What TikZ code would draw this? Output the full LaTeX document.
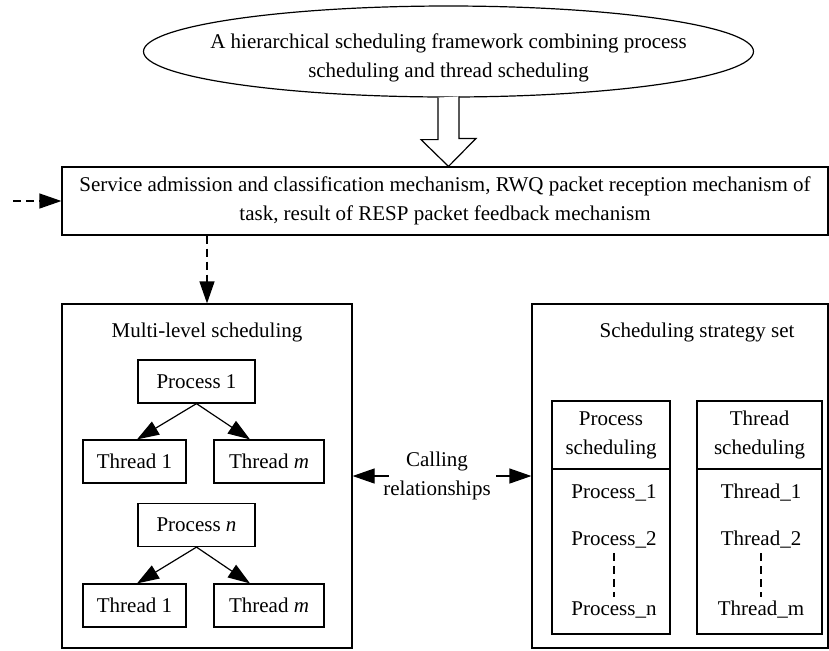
\documentclass[tikz,border=0pt]{standalone}
\usepackage{fontspec}
\setmainfont{Liberation Serif}
\usetikzlibrary{positioning,arrows.meta,shapes.geometric,calc}

\begin{document}
\begin{tikzpicture}[x=0.5pt, y=-0.5pt,
  font=\fontsize{10.5}{14.5}\selectfont,
  line width=0.6pt,
  box/.style={draw, rectangle, inner sep=0pt, align=center},
  proc/.style={box, minimum width=58.5pt, minimum height=21.5pt},
  thr1/.style={box, minimum width=51.5pt, minimum height=21.5pt},
  thrm/.style={box, minimum width=55pt, minimum height=21.5pt},
  item/.style={inner sep=0pt},
  tri/.style={-{Triangle[length=11pt,width=7.5pt]}},
  dsh/.style={dash pattern=on 4pt off 2.5pt}]
\useasboundingbox (0,0) rectangle (829,650);
% Framework ellipse and admission box
\node[draw, ellipse, minimum width=305pt, minimum height=45.5pt, inner sep=0pt] (frame) at (448.5,51.5) {};
\node[align=center, inner sep=0pt] (frametxt) at (448.5,58) {A hierarchical scheduling framework combining process\\ scheduling and thread scheduling};
\node[box, minimum width=383pt, minimum height=34pt] (adm) at (445,201) {Service admission and classification mechanism, RWQ packet reception mechanism of\\ task, result of RESP packet feedback mechanism};
\coordinate (src) at (13,201);
\draw[tri, dsh] (src) -- (adm.west);
\draw[fill=white] ($(frame.south)+(-10.5,0)$) -- ++(0,42) -- ++(-17,0) -- (frame.south |- adm.north) -- ++(27.5,-28) -- ++(-17,0) -- ++(0,-42);
% Multi-level scheduling (left)
\node[box, minimum width=145pt, minimum height=172pt] (mls) at (207,476) {};
\node (mlst) at (207,332) {Multi-level scheduling};
\draw[tri, dsh] (adm.south -| mls) -- (mls.north);
\node[proc] (p1) at (196.5,381.5) {Process 1};
\node[thr1] (p1t1) at (134.5,461.5) {Thread 1};
\node[thrm] (p1tm) at (269,461.5) {Thread \textit{m}};
\draw[tri] (p1.south) -- ($(p1t1.north)+(2.5,0)$);
\draw[tri] (p1.south) -- ($(p1tm.north)+(-19,0)$);
\node[proc] (pn) at (196.5,525) {Process \textit{n}};
\node[thr1] (pnt1) at (134.5,605.5) {Thread 1};
\node[thrm] (pntm) at (269,605.5) {Thread \textit{m}};
\draw[tri] (pn.south) -- ($(pnt1.north)+(2.5,0)$);
\draw[tri] (pn.south) -- ($(pntm.north)+(-19,0)$);
% Calling relationships
\node[align=center, inner sep=0pt] (call) at (437,476) {Calling\\ relationships};
% Scheduling strategy set (right)
\node[box, minimum width=148pt, minimum height=172pt] (sss) at (680,476) {};
\node (ssst) at (697,332) {Scheduling strategy set};
\draw[tri] ($(call.west)+(6,0)$) -- (mls.east);
\draw[tri] ($(call.east)+(5,0)$) -- (sss.west);
\node[box, minimum width=59pt, minimum height=34pt] (psh) at (611,435) {Process\\ scheduling};
\node[box, minimum width=59pt, minimum height=82.5pt] (psb) at (611,551.5) {};
\node[box, minimum width=62.5pt, minimum height=34pt] (tsh) at (759.5,435) {Thread\\ scheduling};
\node[box, minimum width=62.5pt, minimum height=82.5pt] (tsb) at (759.5,551.5) {};
\node[item] (ps1) at (614,493) {Process\_1};
\node[item] (ps2) at (614,540) {Process\_2};
\node[item] (psn) at (614,610) {Process\_n};
\node[item] (ts1) at (761,493) {Thread\_1};
\node[item] (ts2) at (761,540) {Thread\_2};
\node[item] (tsm) at (761,610) {Thread\_m};
\draw[dsh, shorten <=2pt, shorten >=2pt] (ps2) -- (psn);
\draw[dsh, shorten <=2pt, shorten >=2pt] (ts2) -- (tsm);
\end{tikzpicture}
\end{document}
